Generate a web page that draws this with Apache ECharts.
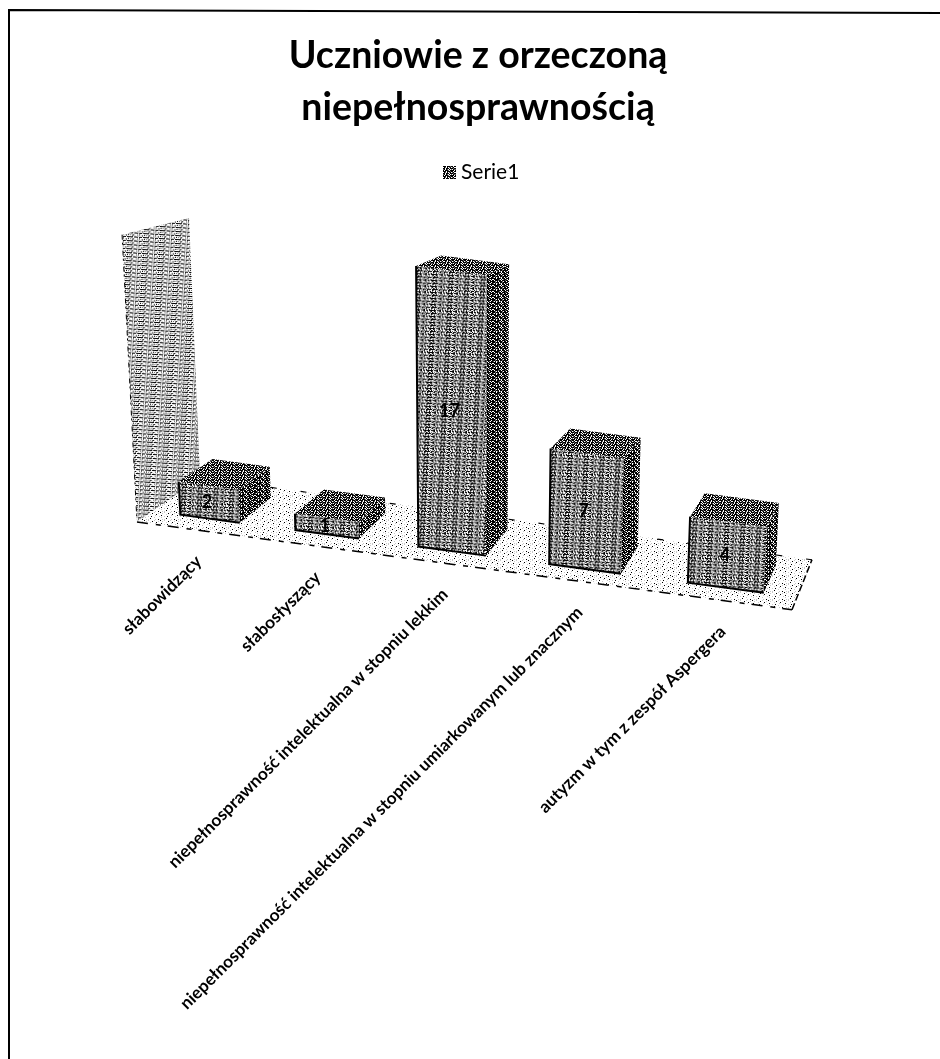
<!DOCTYPE html>
<html>
<head>
<meta charset="utf-8">
<title>Uczniowie z orzeczoną niepełnosprawnością</title>
<script src="https://cdn.jsdelivr.net/npm/echarts@6/dist/echarts.min.js"></script>
<style>
  html, body { margin: 0; padding: 0; background: #fff; }
  #chart { width: 940px; height: 1059px; }
</style>
</head>
<body>
<div id="chart"></div>
<script>
const categories = [
  'słabowidzący',
  'słabosłyszący',
  'niepełnosprawność intelektualna w stopniu lekkim',
  'niepełnosprawność intelektualna w stopniu umiarkowanym lub znacznym',
  'autyzm w tym z zespół Aspergera'
];
const seriesName = 'Serie1';
const values = [2, 1, 17, 7, 4];
const wallTop = 17;
const axisMax = 18;

// the scan is a black and white dither, so faces are filled with small bitmaps
function pattern(rows, rotation) {
  const c = document.createElement('canvas');
  c.width = rows[0].length;
  c.height = rows.length;
  const ctx = c.getContext('2d');
  const shades = { '#': '#000', '+': '#666', '.': '#fff', '-': '#c8c8c8' };
  rows.forEach((row, y) => {
    row.split('').forEach((ch, x) => {
      ctx.fillStyle = shades[ch];
      ctx.fillRect(x, y, 1, 1);
    });
  });
  return { image: c, repeat: 'repeat', rotation: rotation || 0 };
}

const frontFill = pattern([
  '###.####.##.####',
  '.#+...+#..+..+#.',
  '+.#.+.-.#.+..+.#',
  '####.###.####.##',
  '.+..+#..+#.-..#+',
  '.#.+..+#.+.-#.+.'
], 0.05);
const sideFill = pattern([
  '##+###.##+#####.#',
  '+.#.+#.+.##.#+.##',
  '###.####.###.####',
  '.#####+.#.+##+.#.',
  '#.###+##.###+##.#',
  '##+.#.###+.##.###'
]);
const topFill = pattern([
  '###.###+##.#',
  '.#+.#.+#.+#.',
  '##.###.###+#',
  '+#.#+.#.+.#+',
  '#.###+.####.'
]);
const wallFill = pattern([
  '###.####.###.###',
  '.-.....-.+....-.',
  '+.+#-..+.+.-+.#.',
  '..+..-..-...+...'
], 0.06);
const floorFill = pattern([
  '#...-.....-.....',
  '..-.....#.....-.',
  '......-.....#...',
  '.#.........-....',
  '....-..#.......-',
  '.-........-.....',
  '......#.........',
  '..-.-......-..#.'
]);

const gridLeft = 137;
const gridWidth = 655;
const gridBottomY = 522;
const unitPx = 16.9;

// floor plane: grid pixels plus a depth 0..1 go to the tilted view of the picture
function project(gx, gy, depth) {
  const t = (gx - gridLeft) / gridWidth;
  const h = (gridBottomY - gy) * (1 - 0.095 * depth);
  const fx = gridLeft + gridWidth * (0.85 * t + 0.15 * t * t);
  const fy = gridBottomY + 0.134 * (fx - gridLeft);
  const px = fx + depth * (63 - 43 * t);
  const py = fy + depth * (-44 - 6 * t);
  const lean = (px - 470) * 0.000156;
  return [px + h * lean, py - h];
}

function face(points, fill, stroke, width) {
  return {
    type: 'polygon',
    shape: { points: points },
    style: { fill: fill, stroke: stroke || null, lineWidth: width || 0 }
  };
}

function dashed(points, width, dash) {
  return {
    type: 'polyline',
    shape: { points: points },
    style: { fill: null, stroke: '#000', lineWidth: width, lineDash: dash }
  };
}

function renderBack(params, api) {
  const base = api.coord([0, 0]);
  const band = api.size([1, 0])[0];
  const left = base[0] - band / 2;
  const right = left + band * categories.length;
  const y0 = base[1];
  const yTop = api.coord([0, wallTop])[1];
  const a = project(left, y0, 0);
  const b = project(right, y0, 0);
  const c = project(right, y0, 1);
  const d = project(left, y0, 1);
  return {
    type: 'group',
    children: [
      face([a, b, c, d], floorFill),
      face([project(left, yTop, 0), project(left, yTop, 1), d, a], wallFill),
      dashed([a, b], 1.5, [11, 8, 5, 7]),
      dashed([b, c], 1.5, [7, 3]),
      dashed([c, d], 1.2, [6, 24]),
      dashed([project(left, yTop, 0), a], 1, [5, 3, 2, 6])
    ]
  };
}

function renderBar(params, api) {
  const i = api.value(0);
  const value = api.value(1);
  const c = api.coord([i, 0]);
  const band = api.size([1, 0])[0];
  const x0 = c[0] - band / 2 + band * 0.25;
  const x1 = x0 + band * 0.525;
  const y0 = c[1];
  const yv = api.coord([i, value])[1];
  const v0 = 0.25;
  const v1 = 0.8;
  const fl = project(x0, y0, v0), fr = project(x1, y0, v0);
  const tl = project(x0, yv, v0), tr = project(x1, yv, v0);
  const br = project(x1, y0, v1), tbr = project(x1, yv, v1), tbl = project(x0, yv, v1);
  const mid = project((x0 + x1) / 2, (y0 + yv) / 2, v0);
  const labelAt = project(c[0], y0, 0);
  return {
    type: 'group',
    children: [
      face([fl, fr, tr, tl], frontFill),
      face([fr, br, tbr, tr], sideFill),
      face([tl, tr, tbr, tbl], topFill),
      { type: 'polyline', shape: { points: [tl, fl, fr] }, style: { fill: null, stroke: '#000', lineWidth: 2 } },
      {
        type: 'text',
        x: mid[0] - 2, y: mid[1],
        style: {
          text: String(value), align: 'center', verticalAlign: 'middle',
          fontFamily: 'Lato', fontWeight: 'bold', fontSize: 18, fill: '#000'
        }
      },
      {
        type: 'text',
        x: labelAt[0] + 5, y: labelAt[1] + 29,
        rotation: Math.PI / 4,
        style: {
          text: categories[i], align: 'right', verticalAlign: 'middle',
          fontFamily: 'Lato', fontWeight: 'bold', fontSize: 17.2, fill: '#000'
        }
      }
    ]
  };
}

const myChart = echarts.init(document.getElementById('chart'), null, { renderer: 'canvas' });
myChart.setOption({
  animation: false,
  backgroundColor: '#fff',
  title: {
    text: 'Uczniowie z orzeczoną\nniepełnosprawnością',
    left: 473,
    top: 25,
    textAlign: 'center',
    textStyle: { fontFamily: 'Lato', fontWeight: 'bold', fontSize: 37.5, lineHeight: 52, color: '#000' }
  },
  legend: {
    top: 157,
    left: 438,
    itemWidth: 13,
    itemHeight: 13,
    itemGap: 5,
    data: [{ name: seriesName, icon: 'rect', itemStyle: { color: topFill } }],
    textStyle: { fontFamily: 'Lato', fontSize: 21, color: '#000' }
  },
  grid: { left: gridLeft, width: gridWidth, top: gridBottomY - axisMax * unitPx, height: axisMax * unitPx },
  xAxis: { type: 'category', data: categories, show: false },
  yAxis: { type: 'value', min: 0, max: axisMax, show: false },
  graphic: [{
    type: 'polyline',
    silent: true,
    shape: { points: [[9, 1059], [9, 10], [940, 13]] },
    style: { fill: null, stroke: '#000', lineWidth: 2 }
  }],
  series: [
    { type: 'custom', silent: true, renderItem: renderBack, data: [[0, 0]], clip: false, z: 1 },
    {
      name: seriesName,
      type: 'custom',
      renderItem: renderBar,
      data: values.map((v, i) => [i, v]),
      encode: { x: 0, y: 1 },
      clip: false,
      z: 2
    }
  ]
});
</script>
</body>
</html>
